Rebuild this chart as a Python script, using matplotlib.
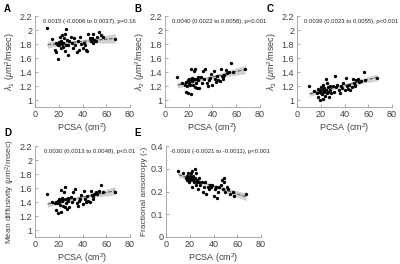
# import Modules ----------------------------------
import numpy as np
import matplotlib
matplotlib.use("Agg")
import matplotlib.pyplot as plt

plt.rcParams['font.family'] = ['Liberation Sans', 'DejaVu Sans']
plt.rcParams['mathtext.fontset'] = 'custom'
plt.rcParams['mathtext.rm'] = 'Liberation Sans'
plt.rcParams['mathtext.it'] = 'Liberation Sans:italic'

# Data ---------------------------------------------
pcsa = [10.5, 14, 16.5, 17.5, 18, 18.5, 19, 19.5, 20, 20.5, 21, 21.5, 22, 22, 22.5,
        23, 23.5, 24, 24.5, 25, 25.5, 26, 26.5, 27, 27.5, 28, 29, 30, 31, 32,
        33, 34, 35, 36, 37, 38, 39, 40, 41, 42, 43, 44, 45, 46, 47,
        48, 48.5, 49, 50, 51, 52, 54, 56, 57.5, 67.5]

lam1 = [2.03, 1.87, 1.72, 1.68, 1.82, 1.80, 1.58, 1.79, 1.83, 1.78, 1.90, 1.82, 1.85, 1.75, 1.93,
        1.80, 1.82, 1.76, 1.88, 1.70, 1.95, 1.78, 2.02, 1.86, 1.65, 1.78, 1.85, 1.90, 1.82, 1.75,
        1.88, 1.78, 1.68, 1.85, 1.72, 1.90, 1.80, 1.75, 1.82, 1.78, 1.72, 1.70, 1.95, 1.88, 1.85,
        1.88, 1.82, 1.94, 1.86, 1.84, 1.90, 1.97, 1.93, 1.90, 1.87]
lam2 = [1.33, 1.25, 1.22, 1.12, 1.26, 1.20, 1.10, 1.28, 1.24, 1.30, 1.21, 1.28, 1.09, 1.44, 1.27,
        1.32, 1.22, 1.30, 1.42, 1.18, 1.45, 1.24, 1.30, 1.17, 1.33, 1.28, 1.17, 1.33, 1.24, 1.41,
        1.30, 1.45, 1.25, 1.20, 1.28, 1.32, 1.37, 1.22, 1.42, 1.30, 1.26, 1.34, 1.28, 1.27, 1.44,
        1.35, 1.30, 1.33, 1.36, 1.43, 1.38, 1.40, 1.53, 1.40, 1.44]
lam3 = [1.20, 1.13, 1.10, 1.05, 1.16, 1.12, 1.00, 1.15, 1.10, 1.18, 1.08, 1.14, 1.02, 1.22, 1.12,
        1.17, 1.06, 1.15, 1.30, 1.10, 1.25, 1.12, 1.18, 1.05, 1.20, 1.15, 1.10, 1.20, 1.12, 1.35,
        1.18, 1.22, 1.14, 1.10, 1.20, 1.17, 1.24, 1.15, 1.31, 1.20, 1.16, 1.22, 1.14, 1.18, 1.30,
        1.25, 1.20, 1.22, 1.28, 1.30, 1.26, 1.27, 1.40, 1.28, 1.31]
md = [1.52, 1.40, 1.38, 1.28, 1.40, 1.38, 1.25, 1.42, 1.40, 1.44, 1.36, 1.43, 1.26, 1.57, 1.42,
      1.46, 1.35, 1.45, 1.54, 1.33, 1.62, 1.38, 1.45, 1.30, 1.46, 1.42, 1.33, 1.47, 1.40, 1.55,
      1.45, 1.58, 1.38, 1.35, 1.42, 1.45, 1.50, 1.37, 1.56, 1.44, 1.40, 1.48, 1.42, 1.40, 1.56,
      1.50, 1.45, 1.48, 1.52, 1.55, 1.52, 1.56, 1.64, 1.55, 1.54]
fa = [0.29, 0.28, 0.26, 0.27, 0.25, 0.28, 0.24, 0.26, 0.27, 0.25, 0.28, 0.26, 0.22, 0.29, 0.25,
      0.27, 0.24, 0.26, 0.30, 0.23, 0.28, 0.24, 0.25, 0.21, 0.26, 0.24, 0.23, 0.24, 0.20, 0.22,
      0.24, 0.19, 0.22, 0.21, 0.23, 0.22, 0.23, 0.18, 0.21, 0.22, 0.17, 0.20, 0.22, 0.23, 0.25,
      0.21, 0.26, 0.24, 0.20, 0.22, 0.21, 0.19, 0.20, 0.18, 0.19]

letters = ['A', 'B', 'C', 'D', 'E']
ylabels = [r'$\lambda_1$ ($\mu$m$^2$/msec)', r'$\lambda_2$ ($\mu$m$^2$/msec)',
           r'$\lambda_3$ ($\mu$m$^2$/msec)', 'Mean diffusivity ($\\mu$m$^2$/msec)',
           'Fractional anisotropy (-)']
notes = ['0.0015 (-0.0006 to 0.0037), p=0.16', '0.0040 (0.0022 to 0.0058), p<0.001',
         '0.0039 (0.0023 to 0.0055), p<0.001', '0.0030 (0.0013 to 0.0048), p<0.01',
         '-0.0016 (-0.0021 to -0.0011), p<0.001']
series = [lam1, lam2, lam3, md, fa]
ylims = [(0.9, 2.2)] * 4 + [(0, 0.4)]
yticks = [np.round(np.arange(1, 2.21, 0.2), 1)] * 4 + [np.round(np.arange(0, 0.41, 0.1), 1)]

# axes rectangles in pixels (left, top, width, height), letter spots (x, baseline)
W, H = 400, 264
boxes = [(35, 16, 95, 91), (165, 16, 95, 91), (297, 16, 95, 91),
         (35, 146, 95, 91), (166, 146, 95, 91)]
letter_xy = [(4, 12), (134, 12), (267, 12), (4, 136), (134, 136)]

# Functions ----------------------------------------
def Fit_Band(x, y, xs):
    # least squares line and 95% confidence band of the mean
    x = np.asarray(x); y = np.asarray(y)
    n = len(x)
    b, a = np.polyfit(x, y, 1)
    res = y - (a + b*x)
    s = np.sqrt(np.sum(res**2)/(n-2))
    se = s*np.sqrt(1/n + (xs - x.mean())**2/np.sum((x - x.mean())**2))
    yf = a + b*xs
    return yf, yf - 1.99*se, yf + 1.99*se

# Plot ---------------------------------------------
fig = plt.figure(figsize=(4, 2.64), dpi=100)
grey = '0.55'
for i in range(5):
    l, t, w, h = boxes[i]
    ax = fig.add_axes([l/W, (H - t - h)/H, w/W, h/H])
    xs = np.linspace(min(pcsa), max(pcsa), 50)
    yf, lo, hi = Fit_Band(pcsa, series[i], xs)
    ax.fill_between(xs, lo, hi, color='0.82', lw=0, zorder=1)
    ax.plot(xs, yf, '--', color='0.3', lw=0.7, zorder=2)
    ax.plot(pcsa, series[i], 'o', color='k', ms=1.4, zorder=3)
    ax.set_xlim(0, 80)
    ax.set_ylim(*ylims[i])
    ax.set_xticks([0, 20, 40, 60, 80])
    ax.set_yticks(yticks[i])
    ax.set_yticklabels([('%g' % v) for v in yticks[i]])
    for sp in ['top', 'right']:
        ax.spines[sp].set_visible(False)
    for sp in ['left', 'bottom']:
        ax.spines[sp].set_color(grey)
        ax.spines[sp].set_linewidth(0.5)
    ax.tick_params(direction='in', length=2, width=0.5, color=grey,
                   labelsize=6.5, labelcolor='0.25', pad=2)
    ax.set_xlabel('PCSA (cm$^2$)', fontsize=6.5, color='0.25', labelpad=2)
    ax.set_ylabel(ylabels[i], fontsize=6 if i >= 3 else 6.5, color='0.25', labelpad=2)
    ax.text(0.57, 0.97, notes[i], transform=ax.transAxes, ha='center', va='top',
            fontsize=4.3, color='0.15')
    lx, ly = letter_xy[i]
    fig.text(lx/W, 1 - ly/H, letters[i], fontsize=7, fontweight='bold',
             ha='left', va='baseline')

fig.savefig('out.png', dpi=100)
